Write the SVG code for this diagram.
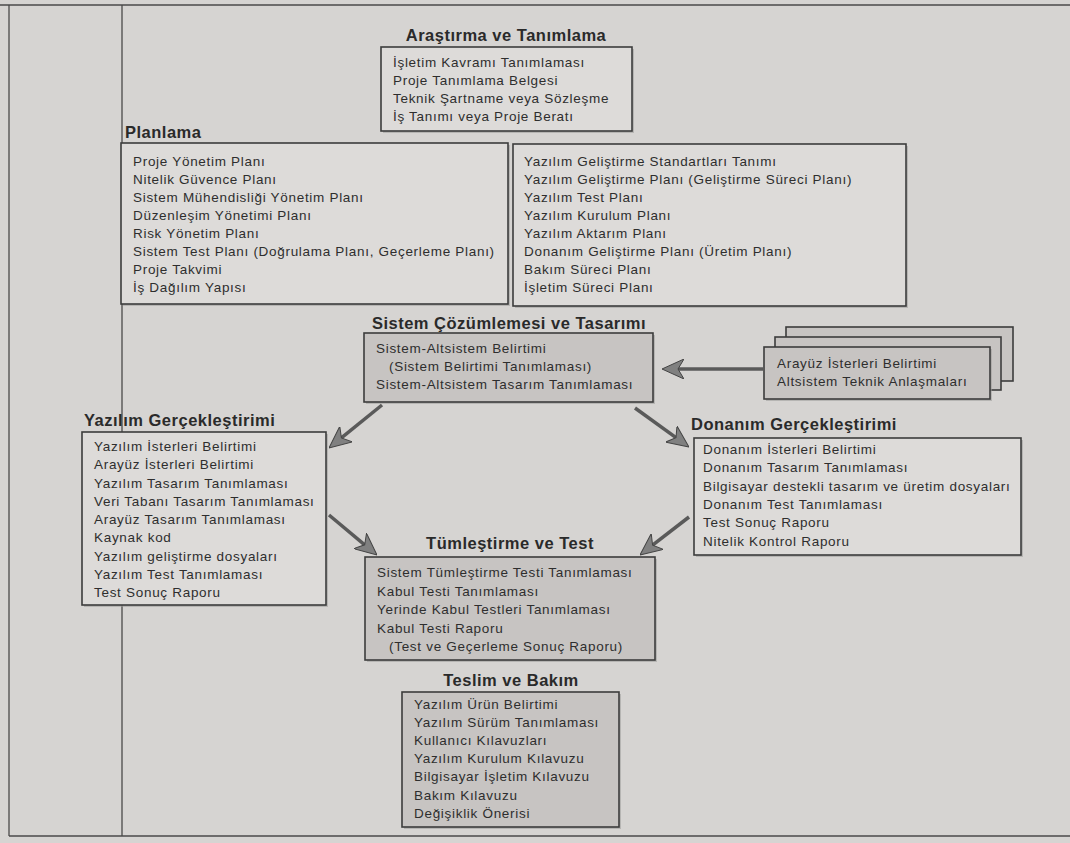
<svg xmlns="http://www.w3.org/2000/svg" width="1070" height="843" viewBox="0 0 1070 843">
<defs>
<style>
.t{font-family:"Liberation Sans",Arial,sans-serif;font-size:13.5px;letter-spacing:0.7px;fill:#2e2e2e}
.h{font-family:"Liberation Sans",Arial,sans-serif;font-size:16.5px;font-weight:bold;letter-spacing:0.5px;fill:#2a2a2a}
.lb{fill:#dddbd9;stroke:#3c3c3c;stroke-width:1.6}
.sb{fill:#c7c4c2;stroke:#3c3c3c;stroke-width:1.6}
.sh{fill:#9d9b99;opacity:0.55}
.fr{stroke:#4a4a4a;stroke-width:1.3;fill:none}
.ar{stroke:#5a5a5a;stroke-width:3.5;fill:none;marker-end:url(#ah)}
</style>
<marker id="ah" viewBox="0 0 22 20" refX="6" refY="10" markerWidth="22" markerHeight="20" markerUnits="userSpaceOnUse" orient="auto">
<path d="M0,0 L22,10 L0,20 L6,10 Z" fill="#808080" stroke="#444" stroke-width="1"/>
</marker>
</defs>
<rect width="1070" height="843" fill="#d6d4d2"/>
<g id="frame">
<line class="fr" x1="0" y1="5" x2="1070" y2="5"/>
<line class="fr" x1="9" y1="5" x2="9" y2="836"/>
<line class="fr" x1="9" y1="836" x2="1070" y2="836"/>
<line class="fr" x1="122" y1="5" x2="122" y2="836" stroke-width="1"/>
</g>
<g id="n-arastirma">
<text class="h" x="506" y="41" text-anchor="middle">Araştırma ve Tanımlama</text>
<rect class="sh" x="383" y="49" width="251" height="84"/>
<rect class="lb" x="381" y="47" width="251" height="84"/>
<text class="t" x="393" y="67">İşletim Kavramı Tanımlaması</text>
<text class="t" x="393" y="85">Proje Tanımlama Belgesi</text>
<text class="t" x="393" y="103">Teknik Şartname veya Sözleşme</text>
<text class="t" x="393" y="121">İş Tanımı veya Proje Beratı</text>
</g>
<g id="n-planlama">
<text class="h" x="125" y="138">Planlama</text>
<rect class="sh" x="123" y="145" width="387" height="161"/>
<rect class="lb" x="121" y="143" width="387" height="161"/>
<rect class="sh" x="515" y="146" width="393" height="162"/>
<rect class="lb" x="513" y="144" width="393" height="162"/>
<text class="t" x="133" y="166">Proje Yönetim Planı</text>
<text class="t" x="133" y="184">Nitelik Güvence Planı</text>
<text class="t" x="133" y="202">Sistem Mühendisliği Yönetim Planı</text>
<text class="t" x="133" y="220">Düzenleşim Yönetimi Planı</text>
<text class="t" x="133" y="238">Risk Yönetim Planı</text>
<text class="t" x="133" y="256">Sistem Test Planı (Doğrulama Planı, Geçerleme Planı)</text>
<text class="t" x="133" y="274">Proje Takvimi</text>
<text class="t" x="133" y="292">İş Dağılım Yapısı</text>
<text class="t" x="524" y="166">Yazılım Geliştirme Standartları Tanımı</text>
<text class="t" x="524" y="184">Yazılım Geliştirme Planı (Geliştirme Süreci Planı)</text>
<text class="t" x="524" y="202">Yazılım Test Planı</text>
<text class="t" x="524" y="220">Yazılım Kurulum Planı</text>
<text class="t" x="524" y="238">Yazılım Aktarım Planı</text>
<text class="t" x="524" y="256">Donanım Geliştirme Planı (Üretim Planı)</text>
<text class="t" x="524" y="274">Bakım Süreci Planı</text>
<text class="t" x="524" y="292">İşletim Süreci Planı</text>
</g>
<g id="n-sistem">
<text class="h" x="509" y="329" text-anchor="middle">Sistem Çözümlemesi ve Tasarımı</text>
<rect class="sh" x="366" y="335" width="289" height="69"/>
<rect class="sb" x="364" y="333" width="289" height="69"/>
<text class="t" x="376" y="353">Sistem-Altsistem Belirtimi</text>
<text class="t" x="389" y="371">(Sistem Belirtimi Tanımlaması)</text>
<text class="t" x="376" y="389">Sistem-Altsistem Tasarım Tanımlaması</text>
</g>
<g id="n-arayuz">
<rect class="sb" x="786" y="327" width="227" height="54"/>
<rect class="sb" x="775" y="337" width="226" height="53"/>
<rect class="sh" x="766" y="349" width="226" height="52"/>
<rect class="sb" x="764" y="347" width="226" height="52"/>
<text class="t" x="777" y="368">Arayüz İsterleri Belirtimi</text>
<text class="t" x="777" y="386">Altsistem Teknik Anlaşmaları</text>
</g>
<g id="n-yazilim">
<text class="h" x="84" y="426">Yazılım Gerçekleştirimi</text>
<rect class="sh" x="84" y="434" width="244" height="173"/>
<rect class="lb" x="82" y="432" width="244" height="173"/>
<text class="t" x="94" y="451">Yazılım İsterleri Belirtimi</text>
<text class="t" x="94" y="469.3">Arayüz İsterleri Belirtimi</text>
<text class="t" x="94" y="487.5">Yazılım Tasarım Tanımlaması</text>
<text class="t" x="94" y="505.8">Veri Tabanı Tasarım Tanımlaması</text>
<text class="t" x="94" y="524">Arayüz Tasarım Tanımlaması</text>
<text class="t" x="94" y="542.3">Kaynak kod</text>
<text class="t" x="94" y="560.5">Yazılım geliştirme dosyaları</text>
<text class="t" x="94" y="578.8">Yazılım Test Tanımlaması</text>
<text class="t" x="94" y="597">Test Sonuç Raporu</text>
</g>
<g id="n-donanim">
<text class="h" x="691" y="430">Donanım Gerçekleştirimi</text>
<rect class="sh" x="696" y="440" width="327" height="117"/>
<rect class="lb" x="694" y="438" width="327" height="117"/>
<text class="t" x="703" y="454">Donanım İsterleri Belirtimi</text>
<text class="t" x="703" y="472.3">Donanım Tasarım Tanımlaması</text>
<text class="t" x="703" y="490.6">Bilgisayar destekli tasarım ve üretim dosyaları</text>
<text class="t" x="703" y="508.9">Donanım Test Tanımlaması</text>
<text class="t" x="703" y="527.2">Test Sonuç Raporu</text>
<text class="t" x="703" y="545.5">Nitelik Kontrol Raporu</text>
</g>
<g id="n-tumlestirme">
<text class="h" x="510" y="549" text-anchor="middle">Tümleştirme ve Test</text>
<rect class="sh" x="367" y="559" width="290" height="103"/>
<rect class="sb" x="365" y="557" width="290" height="103"/>
<text class="t" x="377" y="577">Sistem Tümleştirme Testi Tanımlaması</text>
<text class="t" x="377" y="595.5">Kabul Testi Tanımlaması</text>
<text class="t" x="377" y="614">Yerinde Kabul Testleri Tanımlaması</text>
<text class="t" x="377" y="632.5">Kabul Testi Raporu</text>
<text class="t" x="389" y="651">(Test ve Geçerleme Sonuç Raporu)</text>
</g>
<g id="n-teslim">
<text class="h" x="511" y="686" text-anchor="middle">Teslim ve Bakım</text>
<rect class="sh" x="404" y="694" width="217" height="135"/>
<rect class="sb" x="402" y="692" width="217" height="135"/>
<text class="t" x="414" y="709">Yazılım Ürün Belirtimi</text>
<text class="t" x="414" y="727.1">Yazılım Sürüm Tanımlaması</text>
<text class="t" x="414" y="745.2">Kullanıcı Kılavuzları</text>
<text class="t" x="414" y="763.3">Yazılım Kurulum Kılavuzu</text>
<text class="t" x="414" y="781.4">Bilgisayar İşletim Kılavuzu</text>
<text class="t" x="414" y="799.5">Bakım Kılavuzu</text>
<text class="t" x="414" y="817.6">Değişiklik Önerisi</text>
</g>
<g id="connectors">
<line class="ar" x1="764" y1="369" x2="678" y2="369"/>
<line class="ar" x1="382" y1="405" x2="341.4" y2="437.9"/>
<line class="ar" x1="635" y1="408" x2="676" y2="437.6"/>
<line class="ar" x1="329" y1="515" x2="364.7" y2="544.8"/>
<line class="ar" x1="689" y1="517" x2="652.6" y2="545.2"/>
</g>
</svg>
